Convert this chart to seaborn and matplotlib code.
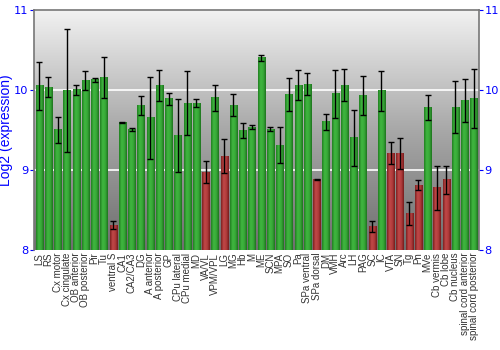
import numpy as np
import pandas as pd
import matplotlib
matplotlib.use("Agg")
import matplotlib.pyplot as plt
from matplotlib.colors import LinearSegmentedColormap
import seaborn as sns

regions = [
    "LS", "RS", "Cx motor", "Cx cingulate", "OB anterior", "OB posterior",
    "Pir", "Tu", "ventral S", "CA1", "CA2/CA3", "DG", "A anterior",
    "A posterior", "GP", "CPu lateral", "CPu medial", "MD", "VA/VL",
    "VPM/VPL", "LG", "MG", "Hb", "M", "ME", "SCN", "MPA", "SO", "Pa",
    "SPa ventral", "SPa dorsal", "DM", "VMH", "Arc", "LH", "PAG", "SC",
    "IC", "VTA", "SN", "Tg", "Pn", "MVe", "Cb vermis", "Cb lobe",
    "Cb nucleus", "spinal cord anterior", "spinal cord posterior",
]

expression = [
    10.05, 10.03, 9.50, 9.99, 10.00, 10.12,
    10.125, 10.15, 8.31, 9.59, 9.50, 9.80, 9.65,
    10.05, 9.89, 9.43, 9.83, 9.83, 8.97,
    9.90, 9.17, 9.81, 9.49, 9.53, 10.40, 9.51, 9.31, 9.94, 10.06,
    10.07, 8.88, 9.60, 9.95, 10.06, 9.40, 9.925, 8.29,
    9.99, 9.21, 9.20, 8.45, 8.81, 9.775, 8.775, 8.875,
    9.78, 9.87, 9.89,
]

error = [
    0.30, 0.125, 0.165, 0.77, 0.06, 0.12,
    0.025, 0.255, 0.05, 0.005, 0.02, 0.12, 0.51,
    0.195, 0.075, 0.46, 0.40, 0.05, 0.135,
    0.165, 0.215, 0.135, 0.09, 0.025, 0.035, 0.025, 0.23, 0.205, 0.19,
    0.14, 0.01, 0.10, 0.30, 0.205, 0.35, 0.245, 0.065,
    0.25, 0.14, 0.195, 0.145, 0.06, 0.155, 0.275, 0.175,
    0.325, 0.27, 0.37,
]

low_cutoff = 9.25

df = pd.DataFrame({"region": regions, "expression": expression, "error": error})
df["level"] = np.where(df["expression"] < low_cutoff, "low", "high")

plt.rcParams["font.family"] = ["Liberation Sans", "DejaVu Sans"]

fig = plt.figure(figsize=(5, 3.5), dpi=100)
ax = fig.add_axes([0.068, 0.286, 0.89, 0.686])

ymin, ymax = 8, 11
xmin, xmax = -0.55, len(regions) - 0.45

# vertical gray gradient behind the bars
bg = LinearSegmentedColormap.from_list("bg", ["#6e6e6e", "#a8a8a8", "#f2f2f2"])
ax.imshow(np.linspace(0, 1, 256).reshape(-1, 1), cmap=bg, origin="lower",
          aspect="auto", extent=[xmin, xmax, ymin, ymax], zorder=0)

for y in (9, 10):
    ax.axhline(y, color="white", lw=1.2, zorder=1)

palette = {"high": "#32a032", "low": "#b03838"}
sns.barplot(data=df, x="region", y="expression", hue="level", palette=palette,
            dodge=False, width=0.76, errorbar=None, legend=False, ax=ax,
            zorder=2, linewidth=0)

# cylinder-like shading across each bar, limited to the visible range
shade = {
    "high": LinearSegmentedColormap.from_list("g", ["#217f21", "#40b640", "#38aa38", "#1e731e"]),
    "low": LinearSegmentedColormap.from_list("r", ["#7e2020", "#c04848", "#b23c3c", "#761c1c"]),
}
grad = np.linspace(0, 1, 64).reshape(1, -1)
for patch in list(ax.patches):
    x0, w, h = patch.get_x(), patch.get_width(), patch.get_height()
    if w <= 0:
        continue
    val = patch.get_y() + h
    kind = "low" if val < low_cutoff else "high"
    ax.imshow(grad, cmap=shade[kind], aspect="auto",
              extent=[x0, x0 + w, ymin, val], zorder=3)

ax.errorbar(np.arange(len(regions)), expression, yerr=error, fmt="none",
            ecolor="black", elinewidth=1.0, capsize=2.2, capthick=1.0, zorder=4)

ax.set_xlim(xmin, xmax)
ax.set_ylim(ymin, ymax)
ax.set_yticks([8, 9, 10, 11])
ax.tick_params(axis="y", colors="#0000ff", length=3, pad=1,
               left=True, right=True, labelleft=True, labelright=True)
for t in ax.get_yticklines():
    t.set_color("#333333")
for lab in ax.get_yticklabels(which="both"):
    lab.set_family("DejaVu Sans")
    lab.set_fontsize(8.2)
for tick in ax.yaxis.get_major_ticks():
    tick.label2.set_family("DejaVu Sans")
    tick.label2.set_fontsize(8.2)
ax.set_xticks(np.arange(len(regions)))
ax.set_xticklabels(regions, rotation=90, fontsize=7, color="#333333")
ax.tick_params(axis="x", length=0, pad=2)
ax.set_xlabel("")
ax.set_ylabel("Log2 (expression)", color="#0000ff", fontsize=10)
ax.yaxis.set_label_coords(-0.047, 0.5)

for side in ("left", "right", "top"):
    ax.spines[side].set_color("#777777")
    ax.spines[side].set_linewidth(1.2)
ax.spines["bottom"].set_visible(False)

fig.savefig("out.png", dpi=100)
